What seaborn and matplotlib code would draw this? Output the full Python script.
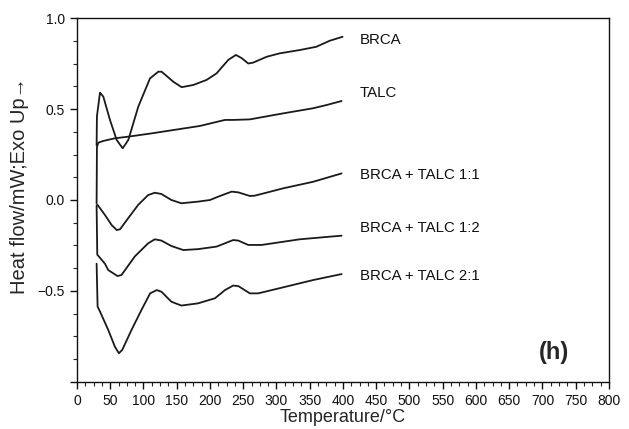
import numpy as np
import pandas as pd
import seaborn as sns
import matplotlib
matplotlib.use("Agg")
import matplotlib.pyplot as plt
from matplotlib.ticker import MultipleLocator, FixedLocator, FixedFormatter

sns.set_theme(style="ticks")
plt.rcParams['font.family'] = ['Liberation Sans', 'DejaVu Sans']

# ---- data ----
brca_T = [29.5, 30, 34.6, 39.6, 49.6, 59.7, 68.7, 77.2, 92.2, 109.8, 122.3, 127.3, 144.8, 157.4,
          174.9, 195, 210, 227.6, 239, 247.6, 257.6, 265, 285.3, 305, 335, 360, 380, 399.5]
brca_v = [0.30, 0.46, 0.59, 0.568, 0.44, 0.33, 0.284, 0.33, 0.513, 0.668, 0.705, 0.705, 0.65, 0.62,
          0.632, 0.66, 0.696, 0.77, 0.797, 0.78, 0.75, 0.755, 0.787, 0.806, 0.824, 0.842, 0.875, 0.897]

talc_T = [29.5, 30, 32, 40, 57, 77, 112, 162, 185, 222.5, 235, 260, 310, 355, 375.5, 398]
talc_v = [-0.02, 0.29, 0.315, 0.325, 0.339, 0.348, 0.366, 0.394, 0.407, 0.44, 0.44, 0.443, 0.476,
          0.504, 0.522, 0.544]

m11_T = [31, 42, 52, 59.7, 64.7, 77, 92, 107, 117, 127, 142, 157, 182, 200, 215, 232.6, 242.6,
         260, 267.7, 310, 355, 398]
m11_v = [-0.027, -0.082, -0.137, -0.165, -0.161, -0.10, -0.027, 0.027, 0.04, 0.033, 0.0, -0.018,
         -0.009, 0.0, 0.022, 0.046, 0.042, 0.022, 0.024, 0.064, 0.10, 0.146]

m12_T = [29.5, 30.5, 42, 47, 61, 67, 87, 107, 117, 127, 142, 160, 182, 210, 235, 242.6, 257.6,
         277.7, 335, 398]
m12_v = [-0.03, -0.30, -0.35, -0.385, -0.418, -0.412, -0.31, -0.238, -0.216, -0.223, -0.253,
         -0.275, -0.27, -0.256, -0.22, -0.223, -0.247, -0.247, -0.216, -0.196]

m21_T = [29.5, 31, 34.6, 47, 57, 63, 68, 82, 97, 110, 120, 127, 142, 157, 182, 207.5, 222.6, 235,
         242.6, 260, 272.6, 310, 355, 398]
m21_v = [-0.35, -0.586, -0.613, -0.714, -0.806, -0.842, -0.824, -0.714, -0.604, -0.513, -0.495,
         -0.504, -0.559, -0.58, -0.568, -0.54, -0.495, -0.47, -0.473, -0.513, -0.513, -0.48, -0.44,
         -0.407]

labels = ["BRCA", "TALC", "BRCA + TALC 1:1", "BRCA + TALC 1:2", "BRCA + TALC 2:1"]
label_y = [0.88, 0.59, 0.137, -0.154, -0.418]

xticks = list(range(0, 801, 50))
yticks = [-1.0, -0.5, 0.0, 0.5, 1.0]
ytick_labels = ["", "\u22120.5", "0.0", "0.5", "1.0"]

# ---- plot ----
fig = plt.figure(figsize=(6.29, 4.29), dpi=100)
ax = fig.add_axes([0.1224, 0.1096, 0.968 - 0.1224, 0.958 - 0.1096])

series = [(brca_T, brca_v), (talc_T, talc_v), (m11_T, m11_v), (m12_T, m12_v), (m21_T, m21_v)]
for (T, v) in series:
    df = pd.DataFrame({"T": T, "v": v})
    sns.lineplot(data=df, x="T", y="v", sort=False, color="#1a1a1a", linewidth=1.3, ax=ax,
                 estimator=None)

for lab, yy in zip(labels, label_y):
    ax.text(425, yy, lab, fontsize=10.8, va="center", ha="left", color="#111111")

ax.text(717, -0.84, "(h)", fontsize=17, fontweight="bold", ha="center", va="center")

ax.set_xlim(0, 800)
ax.set_ylim(-1.0, 1.0)
ax.xaxis.set_major_locator(FixedLocator(xticks))
ax.xaxis.set_minor_locator(MultipleLocator(12.5))
ax.yaxis.set_major_locator(FixedLocator(yticks))
ax.yaxis.set_major_formatter(FixedFormatter(ytick_labels))
ax.yaxis.set_minor_locator(MultipleLocator(0.125))
ax.tick_params(axis="both", which="major", direction="out", length=5, width=1, labelsize=10,
               colors="#111111")
ax.tick_params(axis="both", which="minor", direction="out", length=3, width=0.8)

for s in ax.spines.values():
    s.set_visible(True)
    s.set_linewidth(1.0)
    s.set_color("#111111")

ax.set_xlabel("Temperature/\u00b0C", fontsize=13, labelpad=1)
ax.set_ylabel("Heat flow/mW;Exo Up\u2192", fontsize=14.5, labelpad=6)
ax.yaxis.label.set_y(0.54)

fig.savefig("out.png", dpi=100)
